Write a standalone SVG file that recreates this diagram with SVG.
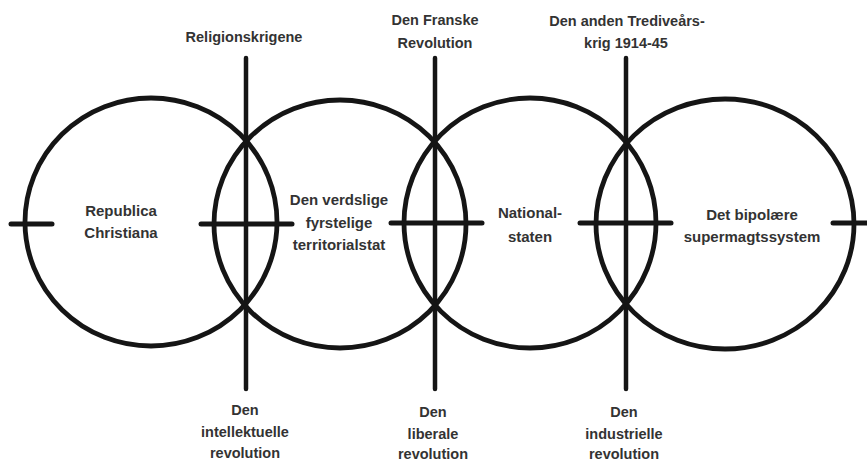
<svg xmlns="http://www.w3.org/2000/svg" width="867" height="463" viewBox="0 0 867 463">
  <style>
    .ring { fill: none; stroke: #151515; stroke-width: 4.8; }
    .bar { stroke: #151515; stroke-width: 4.5; stroke-linecap: round; }
    .tick { stroke: #151515; stroke-width: 5; stroke-linecap: round; }
    text { font-family: "Liberation Sans", Arial, sans-serif; font-weight: bold; fill: #333; text-anchor: middle; }
    .in { font-size: 15px; }
    .out { font-size: 14.5px; }
  </style>
  <rect width="867" height="463" fill="#fff"/>

  <g id="connectors">
    <line class="bar" x1="246" y1="58" x2="246" y2="389"/>
    <line class="bar" x1="435" y1="58" x2="435" y2="389"/>
    <line class="bar" x1="626" y1="58" x2="626" y2="389"/>
    <line class="tick" x1="11" y1="224" x2="52" y2="224"/>
    <line class="tick" x1="201" y1="224" x2="292" y2="224"/>
    <line class="tick" x1="391" y1="223" x2="482" y2="223"/>
    <line class="tick" x1="580" y1="223" x2="671" y2="223"/>
    <line class="tick" x1="833" y1="223" x2="870" y2="223"/>
  </g>

  <g id="republica-christiana">
    <ellipse class="ring" cx="151" cy="222" rx="126" ry="124"/>
    <text class="in" x="121" y="216">Republica</text>
    <text class="in" x="121" y="238">Christiana</text>
  </g>

  <g id="territorialstat">
    <ellipse class="ring" cx="340" cy="224" rx="126" ry="124"/>
    <text class="in" x="339" y="205">Den verdslige</text>
    <text class="in" x="339" y="228">fyrstelige</text>
    <text class="in" x="339" y="250">territorialstat</text>
  </g>

  <g id="nationalstaten">
    <ellipse class="ring" cx="530" cy="223" rx="126" ry="125"/>
    <text class="in" x="530" y="218">National-</text>
    <text class="in" x="530" y="242">staten</text>
  </g>

  <g id="supermagtssystem">
    <ellipse class="ring" cx="725" cy="224" rx="129" ry="125"/>
    <text class="in" x="752" y="220">Det bipolære</text>
    <text class="in" x="752" y="242">supermagtssystem</text>
  </g>

  <g id="religionskrigene">
    <text class="out" x="244" y="42">Religionskrigene</text>
  </g>
  <g id="franske-revolution">
    <text class="out" x="435" y="25">Den Franske</text>
    <text class="out" x="435" y="48">Revolution</text>
  </g>
  <g id="trediveaarskrig">
    <text class="out" x="627" y="26">Den anden Trediveårs-</text>
    <text class="out" x="626" y="48">krig 1914-45</text>
  </g>
  <g id="intellektuelle-revolution">
    <text class="out" x="245" y="415">Den</text>
    <text class="out" x="245" y="437">intellektuelle</text>
    <text class="out" x="245" y="458">revolution</text>
  </g>
  <g id="liberale-revolution">
    <text class="out" x="433" y="417">Den</text>
    <text class="out" x="433" y="439">liberale</text>
    <text class="out" x="433" y="459">revolution</text>
  </g>
  <g id="industrielle-revolution">
    <text class="out" x="624" y="417">Den</text>
    <text class="out" x="624" y="439">industrielle</text>
    <text class="out" x="624" y="459">revolution</text>
  </g>
</svg>
